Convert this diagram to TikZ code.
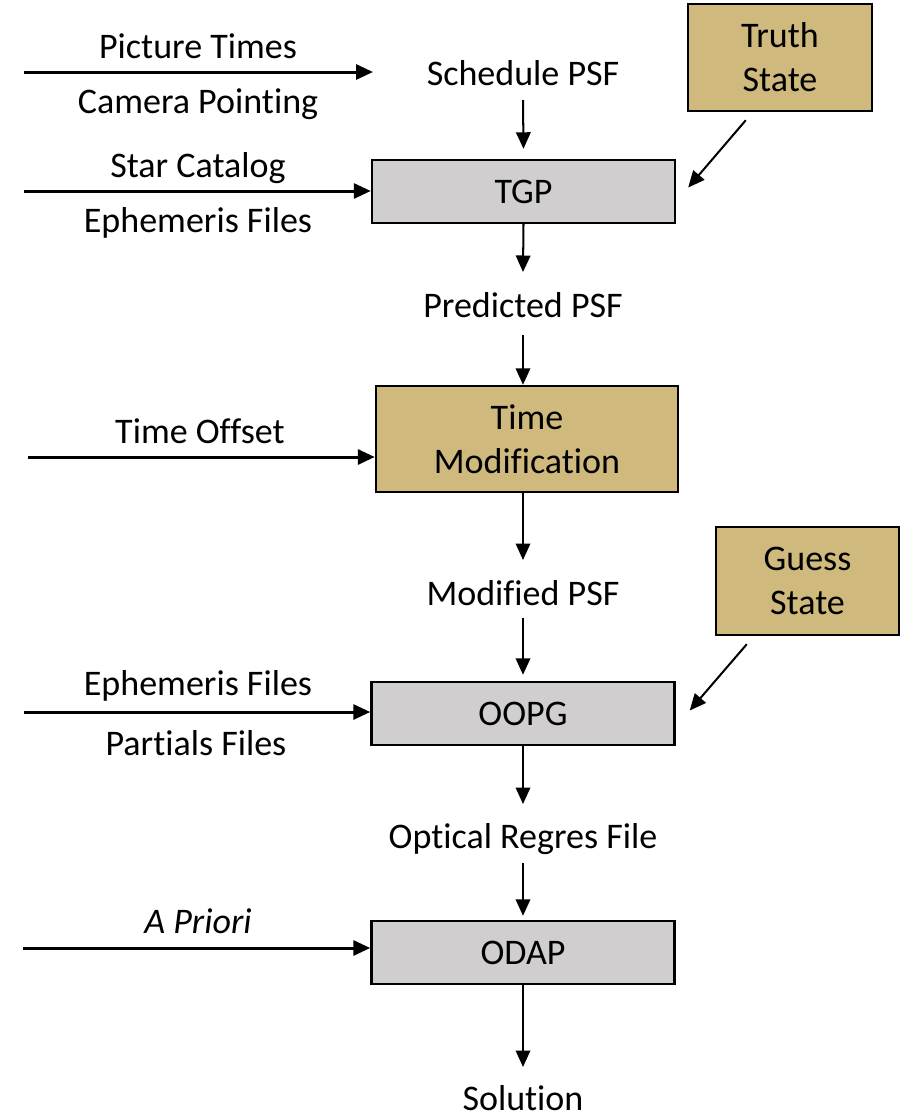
\documentclass[tikz,border=0pt]{standalone}
\usepackage{fontspec}
\setmainfont{Carlito}[Ligatures=NoCommon]
\usetikzlibrary{arrows.meta,calc}
\definecolor{boxgold}{RGB}{207,185,125}
\definecolor{boxgray}{RGB}{208,206,206}
\begin{document}
\begin{tikzpicture}[x=0.02cm,y=-0.02cm,
  font=\fontsize{20.5}{25}\selectfont,
  lbl/.style={anchor=base,inner sep=0pt},
  proc/.style={draw,line width=1.4pt,fill=boxgray,minimum width=6.06cm,minimum height=1.26cm,inner sep=0pt},
  gold/.style={draw,line width=1.4pt,fill=boxgold,align=center,inner sep=0pt},
  feed/.style={line width=1.7pt,-{Triangle[length=0.34cm,width=0.30cm]}},
  flow/.style={line width=1.15pt,-{Triangle[length=0.33cm,width=0.29cm]}}]
\useasboundingbox (0,0) rectangle (902,1117);
\node[proc] (tgp) at (523.5,191.5) {TGP};
\node[gold,minimum width=6.04cm,minimum height=2.12cm] (tm) at (527,439) {Time\\Modification};
\node[proc] (oopg) at (523,713.5) {OOPG};
\node[proc] (odap) at (523,952.5) {ODAP};
\node[gold,minimum width=3.68cm,minimum height=2.14cm] (truth) at (780,57.5) {Truth\\State};
\node[gold,minimum width=3.66cm,minimum height=2.16cm] (guess) at (807.5,581) {Guess\\State};

\node[lbl] (sched) at (523,85) {Schedule PSF};
\node[lbl] (pred) at (523,317) {Predicted PSF};
\node[lbl] (mod) at (523,605) {Modified PSF};
\node[lbl] (regres) at (523,848) {Optical Regres File};
\node[lbl] (sol) at (523,1110) {Solution};

\node[lbl] (pictimes) at (198,58) {Picture Times};
\node[lbl] (campoint) at (198,113) {Camera Pointing};
\node[lbl] (starcat) at (198,177) {Star Catalog};
\node[lbl] (ephem) at (198,232) {Ephemeris Files};
\node[lbl] (offset) at (200,443) {Time Offset};
\node[lbl] (ephemb) at (198,695) {Ephemeris Files};
\node[lbl] (partials) at (196,755) {Partials Files};
\node[lbl] (apriori) at (198,933) {\itshape A Priori};

\coordinate (pictin) at (24,72);
\coordinate (pictout) at (373,72);
\coordinate (catin) at (24,191);
\coordinate (offin) at (28,457);
\coordinate (ephin) at (24,712);
\coordinate (priin) at (23,948);

\draw[feed] (pictin) -- (pictout);
\draw[feed] (catin) -- (catin -| tgp.west);
\draw[feed] (offin) -- (offin -| tm.west);
\draw[feed] (ephin) -- (ephin -| oopg.west);
\draw[feed] (priin) -- (priin -| odap.west);

\draw[flow] ($(sched.base)+(0,15)$) -- ($(tgp.north)+(0,-10)$);
\draw[flow] (tgp.south) -- ($(pred.base)+(0,-45)$);
\draw[flow] ($(pred.base)+(0,18)$) -- (pred.base |- tm.north);
\draw[flow] (tm.south -| mod.base) -- ($(mod.base)+(0,-45)$);
\draw[flow] ($(mod.base)+(0,13)$) -- ($(oopg.north)+(0,-6)$);
\draw[flow] (oopg.south) -- ($(regres.base)+(0,-44)$);
\draw[flow] ($(regres.base)+(0,15)$) -- ($(odap.north)+(0,-4)$);
\draw[flow] (odap.south) -- ($(sol.base)+(0,-43)$);
\draw[flow] ($(truth.south west)+(59,8)$) -- ($(tgp.east)+(12,-4)$);
\draw[flow] ($(guess.south west)+(32,8)$) -- ($(oopg.east)+(14,-3)$);
\end{tikzpicture}
\end{document}
